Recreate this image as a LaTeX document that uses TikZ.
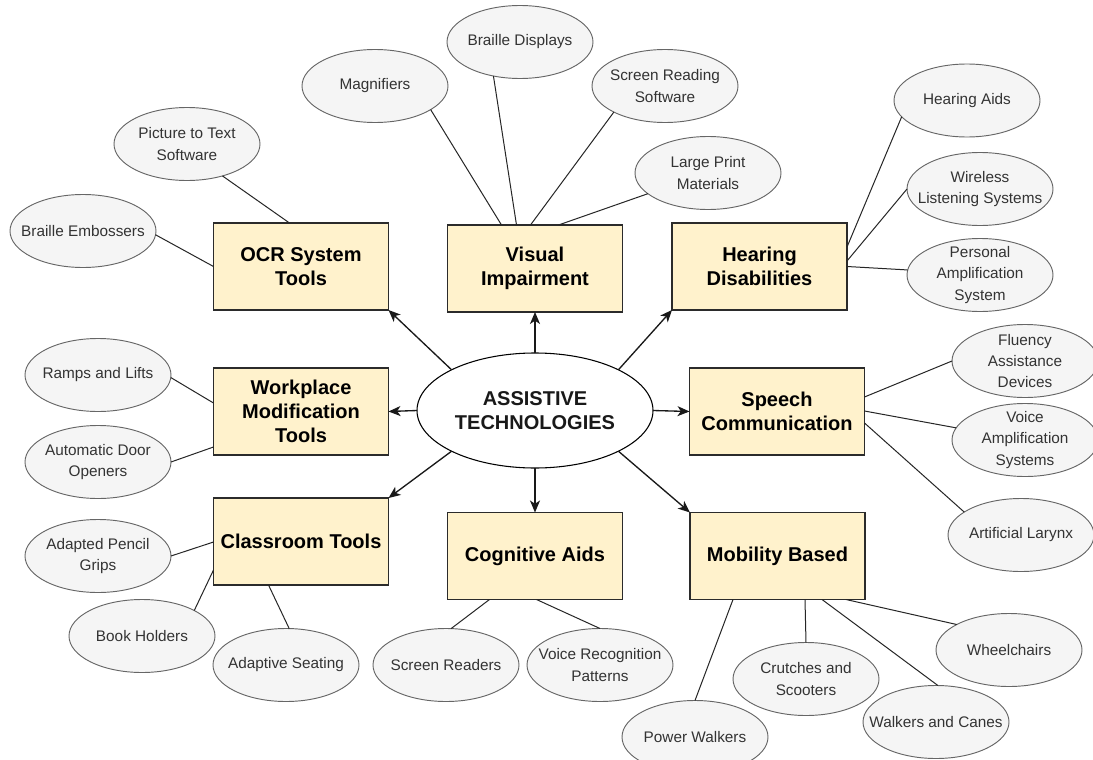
\documentclass[tikz,border=0pt]{standalone}
\usepackage{fontspec}
\setmainfont{Liberation Sans}
\usetikzlibrary{arrows.meta,calc,shapes.geometric}
\definecolor{boxfill}{HTML}{FFF2CC}
\definecolor{boxdraw}{HTML}{2B2B2B}
\definecolor{leaffill}{HTML}{F5F5F5}
\definecolor{leafdraw}{HTML}{666666}
\definecolor{leaftext}{HTML}{333333}
\definecolor{linecol}{HTML}{262626}
\tikzset{
  catbox/.style={rectangle,draw=boxdraw,fill=boxfill,line width=1pt,
    minimum width=131.25pt,minimum height=65.25pt,inner sep=2pt,outer sep=0pt,
    align=center,font=\fontsize{15}{18}\selectfont\bfseries,text=black},
  leaf/.style={ellipse,draw=leafdraw,fill=leaffill,line width=0.7pt,
    minimum width=109.5pt,minimum height=54.75pt,inner sep=0pt,outer sep=0pt},
  lt/.style={align=center,font=\fontsize{11.5}{16}\selectfont,text=leaftext,inner sep=0pt},
  hub/.style={ellipse,draw=black,fill=white,line width=0.8pt,
    minimum width=177pt,minimum height=86.25pt,inner sep=0pt,outer sep=0pt,
    align=center,font=\fontsize{15}{18}\selectfont\bfseries,text=black!90},
  conn/.style={draw=linecol,line width=0.75pt},
  arr/.style={draw=black!90,line width=1pt,-{Stealth[length=9pt,width=7.5pt,inset=2.5pt]}}
}
\begin{document}
\begin{tikzpicture}[x=0.75pt,y=-0.75pt]
\useasboundingbox (0,0) rectangle (1093,760);
\clip (0,0) rectangle (1093,760);
\fill[white] (0,0) rectangle (1093,760);

% hub
\node[hub] (c) at (535,410.5) {ASSISTIVE\\TECHNOLOGIES};

% category boxes
\node[catbox] (ocr) at (301,266.5) {OCR System\\Tools};
\node[catbox] (vis) at (535,268.5) {Visual\\Impairment};
\node[catbox] (hd)  at (759.5,266.5) {Hearing\\Disabilities};
\node[catbox] (wp)  at (301,411.5) {Workplace\\Modification\\Tools};
\node[catbox] (sp)  at (777,411.5) {Speech\\Communication};
\node[catbox] (cl)  at (301,541.5) {Classroom Tools};
\node[catbox] (cog) at (535,556) {Cognitive Aids};
\node[catbox] (mob) at (777.5,556) {Mobility Based};

% leaves
\node[leaf,label={[lt]center:Picture to Text\\Software}] (pt) at (187,144) {};
\node[leaf,label={[lt]center:Braille Embossers}] (be) at (83,231) {};
\node[leaf,label={[lt]center:Magnifiers}] (mg) at (375,86) {};
\node[leaf,label={[lt]center:Braille Displays}] (bd) at (520,42) {};
\node[leaf,label={[lt]center:Screen Reading\\Software}] (sr) at (665,86) {};
\node[leaf,label={[lt]center:Large Print\\Materials}] (lp) at (708,173) {};
\node[leaf,label={[lt]center:Hearing Aids}] (ha) at (967,100.5) {};
\node[leaf,label={[lt]center:Wireless\\Listening Systems}] (wl) at (980,189) {};
\node[leaf,label={[lt]center:Personal\\Amplification\\System}] (pa) at (980,275) {};
\node[leaf,label={[lt]center:Ramps and Lifts}] (rl) at (98,375) {};
\node[leaf,label={[lt]center:Automatic Door\\Openers}] (ad) at (98,462) {};
\node[leaf,label={[lt]center:Fluency\\Assistance\\Devices}] (fl) at (1025,361) {};
\node[leaf,label={[lt]center:Voice\\Amplification\\Systems}] (va) at (1025,440) {};
\node[leaf,label={[lt]center:Artificial Larynx}] (al) at (1021,535) {};
\node[leaf,label={[lt]center:Adapted Pencil\\Grips}] (ap) at (98,556) {};
\node[leaf,label={[lt]center:Book Holders}] (bh) at (142,636) {};
\node[leaf,label={[lt]center:Adaptive Seating}] (as) at (286,665) {};
\node[leaf,label={[lt]center:Screen Readers}] (srd) at (446,665) {};
\node[leaf,label={[lt]center:Voice Recognition\\Patterns}] (vr) at (600,665) {};
\node[leaf,label={[lt]center:Power Walkers}] (pw) at (695,737) {};
\node[leaf,label={[lt]center:Crutches and\\Scooters}] (cs) at (806,679) {};
\node[leaf,label={[lt]center:Walkers and Canes}] (wc) at (936,722) {};
\node[leaf,label={[lt]center:Wheelchairs}] (wh) at (1009,650) {};

% hub arrows
\draw[arr] (c.154) -- (ocr.south east);
\draw[arr] (c.north) -- (vis.south);
\draw[arr] (c.26) -- (hd.south west);
\draw[arr] (c.west) -- (wp.east);
\draw[arr] (c.east) -- (sp.west);
\draw[arr] (c.206) -- (cl.north east);
\draw[arr] (c.south) -- (cog.north);
\draw[arr] (c.334) -- (mob.north west);

% connectors
\draw[conn] (pt.318) -- ($(ocr.north west)+(76,0)$);
\draw[conn] (be.-3) -- (ocr.west);
\draw[conn] (mg.-23) -- ($(vis.north west)+(54,0)$);
\draw[conn] (bd.232) -- ($(vis.north west)+(69,0)$);
\draw[conn] (sr.207) -- ($(vis.north west)+(83,0)$);
\draw[conn] (lp.199) -- ($(vis.north west)+(111,0)$);
\draw[conn] (ha.194) -- ($(hd.north east)+(0,24)$);
\draw[conn] (wl.180) -- ($(hd.north east)+(0,38)$);
\draw[conn] (pa.176) -- (hd.east);
\draw[conn] (rl.-2) -- ($(wp.north west)+(0,35)$);
\draw[conn] (ad.east) -- ($(wp.north west)+(0,79)$);
\draw[conn] (fl.west) -- ($(sp.north east)+(0,29)$);
\draw[conn] (va.170) -- ($(sp.north east)+(0,43)$);
\draw[conn] (al.158) -- ($(sp.north east)+(0,55)$);
\draw[conn] (ap.east) -- ($(cl.north west)+(0,44)$);
\draw[conn] (bh.26) -- ($(cl.north west)+(0,72)$);
\draw[conn] (as.85) -- ($(cl.south west)+(55,0)$);
\draw[conn] (srd.82) -- ($(cog.south west)+(42,0)$);
\draw[conn] (vr.north) -- ($(cog.south west)+(89,0)$);
\draw[conn] (pw.north) -- ($(mob.south west)+(43,0)$);
\draw[conn] (cs.north) -- ($(mob.south west)+(115,0)$);
\draw[conn] (wc.87) -- ($(mob.south west)+(132,0)$);
\draw[conn] (wh.154) -- ($(mob.south west)+(156,0)$);
\end{tikzpicture}
\end{document}
